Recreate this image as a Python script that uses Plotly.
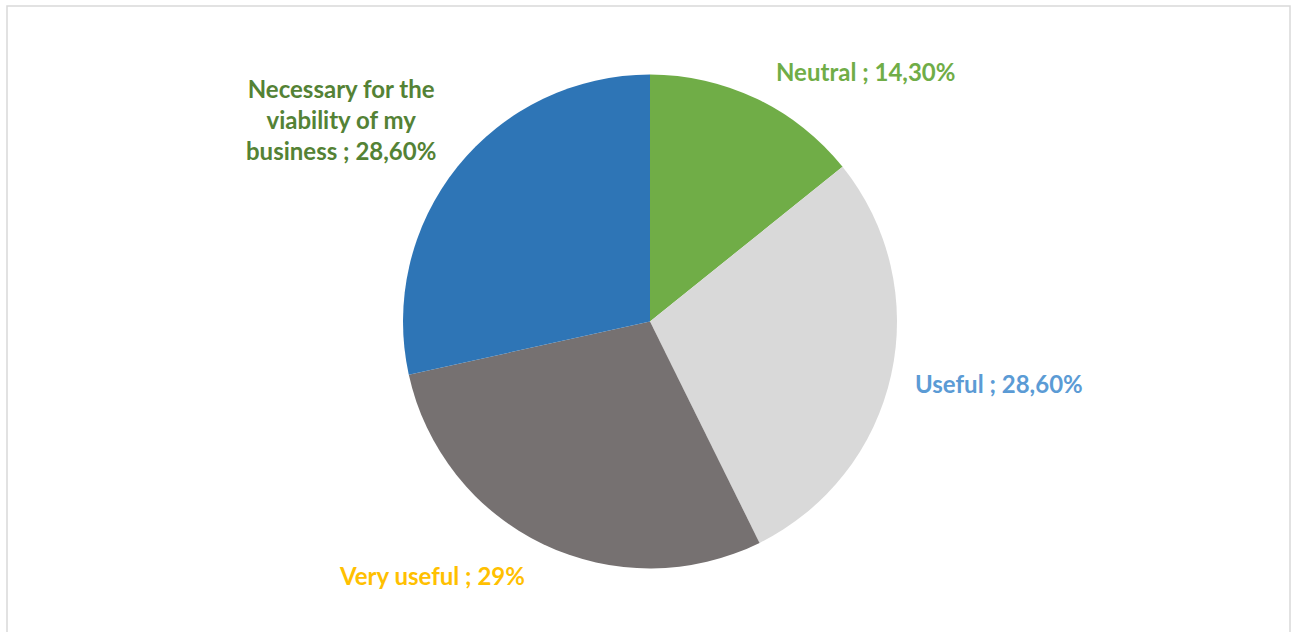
import plotly.graph_objects as go

# Survey answers and their shares (%)
categories = ["Neutral", "Useful", "Very useful", "Necessary for the viability of my business"]
shares = [14.3, 28.6, 29.0, 28.6]
share_text = ["14,30%", "28,60%", "29%", "28,60%"]
slice_colors = ["#70AD47", "#D9D9D9", "#767171", "#2E75B6"]
label_colors = ["#70AD47", "#5B9BD5", "#FFC000", "#548235"]
label_lines = [["Neutral ; 14,30%"],
               ["Useful ; 28,60%"],
               ["Very useful ; 29%"],
               ["Necessary for the", "viability of my", "business ; 28,60%"]]
# label anchor positions in paper coordinates (x, y)
label_pos = [(0.670, 0.887), (0.773, 0.393), (0.334, 0.089), (0.264, 0.811)]

W, H = 1292, 632

fig = go.Figure(go.Pie(
    labels=categories,
    values=shares,
    sort=False,
    direction="clockwise",
    rotation=0,
    marker=dict(colors=slice_colors, line=dict(color="white", width=0)),
    textinfo="none",
    hoverinfo="label+percent",
    showlegend=False,
    domain=dict(x=[403 / W, 897 / W], y=[(H - 569) / H, (H - 74) / H]),
))

for lines, (x, y), col in zip(label_lines, label_pos, label_colors):
    fig.add_annotation(
        x=x, y=y, xref="paper", yref="paper",
        text="<br>".join(lines),
        showarrow=False, align="center",
        xanchor="center", yanchor="middle",
        font=dict(family="Lato", size=24, color=col, weight="bold"),
    )

# chart area frame
fig.add_shape(type="rect", xref="paper", yref="paper",
              x0=7 / W, x1=1290 / W, y0=-0.01, y1=(H - 6) / H,
              line=dict(color="#D9D9D9", width=1.5), fillcolor="rgba(0,0,0,0)")

fig.update_layout(
    width=W, height=H,
    margin=dict(l=0, r=0, t=0, b=0),
    paper_bgcolor="white", plot_bgcolor="white",
)

fig.write_html("out.html")
